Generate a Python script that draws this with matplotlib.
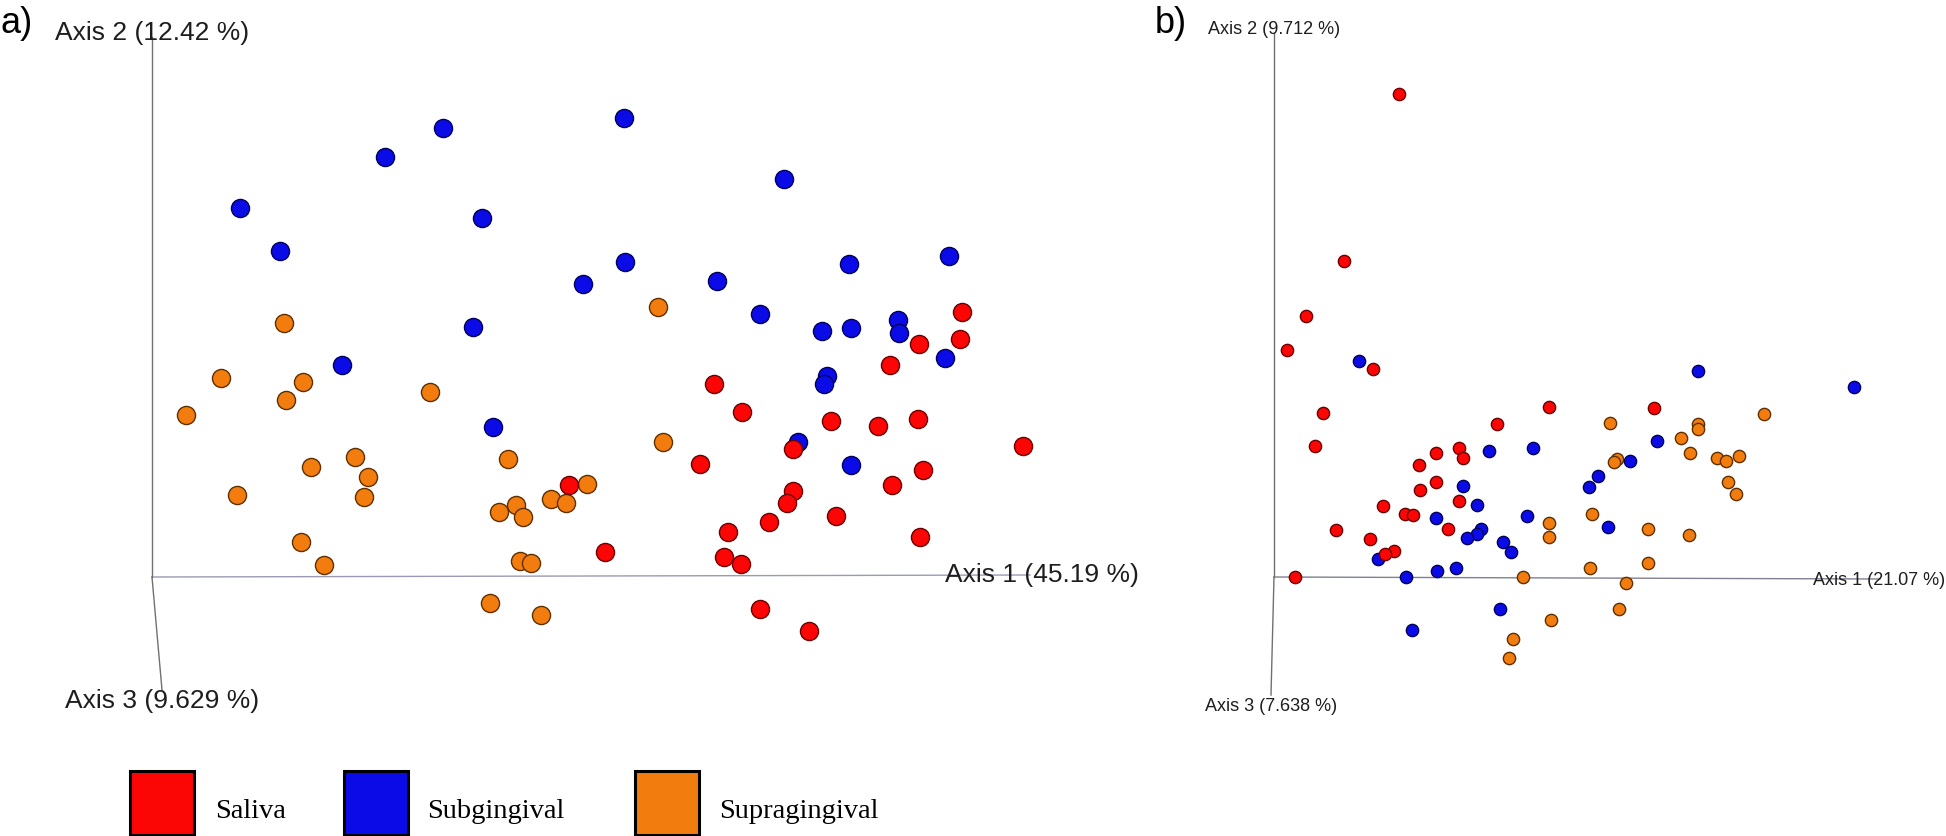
import matplotlib
matplotlib.use("Agg")
import matplotlib.pyplot as plt
from matplotlib.patches import Rectangle

# ---------------- data (projected PCoA coordinates, arbitrary units x100) ----------------
groups = ["Saliva", "Subgingival", "Supragingival"]
group_colors = ["#fb0505", "#0b0be8", "#f27c0e"]
edge_colors = ["#6a0000", "#00005a", "#5e3000"]

axis_labels_a = ["Axis 1 (45.19 %)", "Axis 2 (12.42 %)", "Axis 3 (9.629 %)"]
axis_labels_b = ["Axis 1 (21.07 %)", "Axis 2 (9.712 %)", "Axis 3 (7.638 %)"]
panel_tags = ["a)", "b)"]

# Panel a
a_saliva_x = [810, 808, 767, 738, 562, 590, 679, 726, 766, 641, 871, 548, 771, 740, 641, 635, 617, 684, 576, 768, 453, 572, 589, 417, 608, 657]
a_saliva_y = [265, 238, 233, 212, 193, 165, 156, 151, 158, 128, 131, 113, 107, 92, 86, 74, 55, 61, 45, 40, 25, 20, 13, 92, -32, -54]
a_sub_x = [472, 291, 233, 88, 330, 632, 128, 473, 431, 565, 697, 797, 608, 670, 699, 746, 747, 793, 321, 190, 675, 672, 646, 699, 341]
a_sub_y = [459, 449, 420, 369, 359, 398, 326, 315, 293, 296, 313, 321, 263, 246, 249, 257, 244, 219, 250, 212, 201, 193, 135, 112, 150]
a_supra_x = [506, 132, 69, 151, 134, 34, 278, 511, 203, 159, 356, 216, 85, 212, 435, 399, 414, 364, 347, 371, 149, 172, 368, 379, 338, 389]
a_supra_y = [270, 254, 199, 195, 177, 162, 185, 135, 120, 110, 118, 100, 82, 80, 93, 78, 74, 72, 65, 60, 35, 12, 16, 14, -26, -38]

# Panel b
b_saliva_x = [125, 70, 32, 13, 99, 49, 275, 223, 380, 41, 162, 185, 189, 145, 162, 146, 185, 109, 131, 139, 174, 62, 96, 120, 111, 21]
b_saliva_y = [483, 316, 261, 227, 208, 164, 170, 153, 169, 131, 124, 129, 119, 112, 95, 87, 76, 71, 63, 62, 48, 47, 38, 26, 23, 0]
b_sub_x = [85, 424, 580, 383, 215, 259, 356, 324, 315, 189, 203, 162, 253, 334, 207, 203, 193, 229, 237, 104, 182, 163, 132, 226, 138]
b_sub_y = [216, 206, 190, 136, 126, 129, 116, 101, 90, 91, 72, 59, 61, 50, 48, 43, 39, 35, 25, 18, 9, 6, 0, -32, -53]
b_supra_x = [490, 336, 424, 424, 407, 416, 443, 452, 465, 343, 340, 454, 462, 318, 275, 275, 374, 415, 374, 316, 249, 352, 345, 277, 239, 235]
b_supra_y = [163, 154, 153, 148, 139, 124, 119, 116, 121, 118, 115, 95, 83, 63, 54, 40, 48, 42, 14, 9, 0, -6, -32, -43, -62, -81]

# ---------------- figure ----------------
W, H = 1946, 836
fig = plt.figure(figsize=(W / 100, H / 100), dpi=100)
fig.patch.set_facecolor("white")


def fpos(x, y):
    return x / W, 1 - y / H


def make_axes(left_px, right_px, origin_px):
    ox, oy = origin_px
    ax = fig.add_axes([left_px / W, 0, (right_px - left_px) / W, 1])
    ax.set_xlim(left_px - ox, right_px - ox)
    ax.set_ylim(-(H - oy), oy)
    ax.axis("off")
    return ax


ax_a = make_axes(0, 1160, (152, 577))
ax_b = make_axes(1160, W, (1274, 577))

# axis lines (3D projection)
ax_a.plot([0, 878], [0, 2], color="#9a9ab4", lw=1.0, zorder=1)
ax_a.plot([0, 0], [0, 540], color="#707070", lw=1.0, zorder=1)
ax_a.plot([0, 10], [0, -113], color="#707070", lw=1.0, zorder=1)

ax_b.plot([0, 606], [0, -2], color="#808090", lw=1.0, zorder=1)
ax_b.plot([0, 0], [0, 544], color="#707070", lw=1.0, zorder=1)
ax_b.plot([0, -3], [0, -118], color="#707070", lw=1.0, zorder=1)

series_a = [(a_saliva_x, a_saliva_y), (a_sub_x, a_sub_y), (a_supra_x, a_supra_y)]
series_b = [(b_saliva_x, b_saliva_y), (b_sub_x, b_sub_y), (b_supra_x, b_supra_y)]

for ax, series, size in [(ax_a, series_a, 170), (ax_b, series_b, 78)]:
    for idx in [2, 1, 0]:
        xs, ys = series[idx]
        ax.scatter(xs, ys, s=size, c=group_colors[idx], edgecolors=edge_colors[idx],
                   linewidths=1.0, zorder=3 + (2 - idx), clip_on=False)

# axis labels
lab_kw = dict(family="Liberation Sans", color="#1e1e1e", va="baseline", ha="left")
fig.text(*fpos(945, 582), axis_labels_a[0], fontsize=19, **lab_kw)
fig.text(*fpos(55, 40), axis_labels_a[1], fontsize=19, **lab_kw)
fig.text(*fpos(65, 708), axis_labels_a[2], fontsize=19, **lab_kw)

fig.text(*fpos(1813, 585), axis_labels_b[0], fontsize=13, **lab_kw)
fig.text(*fpos(1208, 34), axis_labels_b[1], fontsize=13, **lab_kw)
fig.text(*fpos(1205, 711), axis_labels_b[2], fontsize=13, **lab_kw)

# panel tags
fig.text(*fpos(0, 33), panel_tags[0], fontsize=26, family="Liberation Sans", color="black", va="baseline")
fig.text(*fpos(1155, 33), panel_tags[1], fontsize=26, family="Liberation Sans", color="black", va="baseline")

# legend
sq_left = [130, 344, 635]
txt_left = [215, 427, 719]
for i, g in enumerate(groups):
    x0, y1 = fpos(sq_left[i], 835)
    fig.patches.append(Rectangle((x0, y1), 64 / W, 64 / H, transform=fig.transFigure,
                                 facecolor=group_colors[i], edgecolor="black", lw=2.2))
    fig.text(*fpos(txt_left[i], 818), g, fontsize=20.5, family="Liberation Serif",
             color="black", va="baseline", ha="left")

fig.savefig("out.png", dpi=100, facecolor="white")
